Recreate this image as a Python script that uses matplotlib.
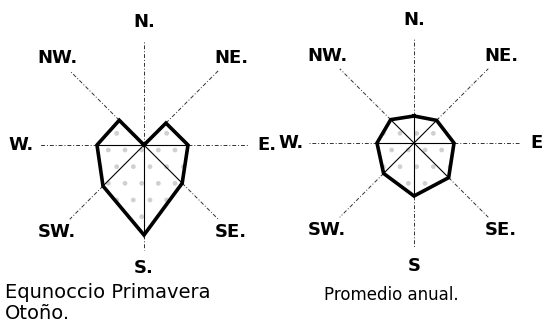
import numpy as np
import matplotlib as mpl
mpl.use('Agg')
import matplotlib.pyplot as plt

# wind directions, clockwise from north
directions = ['N', 'NE', 'E', 'SE', 'S', 'SW', 'W', 'NW']
angles_deg = [0, 45, 90, 135, 180, 225, 270, 315]

# relative frequency per direction
equinox_values = [0, 31, 44, 54, 90, 58, 47, 35]
annual_values = [27, 32, 40, 49, 53, 43, 37, 33]

left_labels = ['N.', 'NE.', 'E.', 'SE.', 'S.', 'SW.', 'W.', 'NW.']
right_labels = ['N.', 'NE.', 'E', 'SE.', 'S', 'SW.', 'W.', 'NW.']

left_caption = 'Equnoccio Primavera\nOtoño.'
right_caption = 'Promedio anual.'

ray_len = 105
label_r = 123

W, H = 548, 327


def draw_rose(ax, values, labels):
    theta = np.deg2rad(angles_deg)
    vals = np.array(values, dtype=float)
    ax.set_theta_zero_location('N')
    ax.set_theta_direction(-1)
    ax.set_ylim(0, ray_len)
    ax.grid(False)
    ax.set_xticks([])
    ax.set_yticks([])
    ax.spines['polar'].set_visible(False)
    ax.patch.set_alpha(0)

    for t, v in zip(theta, vals):
        # dashed ray outside the polygon, thin solid spoke inside
        ax.plot([t, t], [v, ray_len], color='#333333', lw=0.7,
                ls=(0, (4, 2, 1, 2)), clip_on=False)
        ax.plot([t, t], [0, v], color='black', lw=0.8)

    tt = np.append(theta, theta[0])
    vv = np.append(vals, vals[0])
    ax.fill(tt, vv, facecolor='none', edgecolor='#d0d0d0', hatch='.', lw=0)
    ax.plot(tt, vv, color='black', lw=2.6, solid_joinstyle='miter')

    for t, lab in zip(theta, labels):
        ax.text(t, label_r, lab, ha='center', va='center', fontsize=13,
                fontweight='bold', clip_on=False)


fig = plt.figure(figsize=(W / 100, H / 100), dpi=100)
fig.patch.set_facecolor('white')

for cx, cy, values, labels in [(144, 145, equinox_values, left_labels),
                               (414, 143, annual_values, right_labels)]:
    ax = fig.add_axes([(cx - ray_len) / W, 1 - (cy + ray_len) / H,
                       2 * ray_len / W, 2 * ray_len / H], projection='polar')
    draw_rose(ax, values, labels)

fig.text(5 / W, 1 - 303 / H, left_caption, ha='left', va='center',
         fontsize=14, linespacing=1.15)
fig.text(324 / W, 1 - 295 / H, right_caption, ha='left', va='center',
         fontsize=12)

fig.savefig('out.png', dpi=100)
